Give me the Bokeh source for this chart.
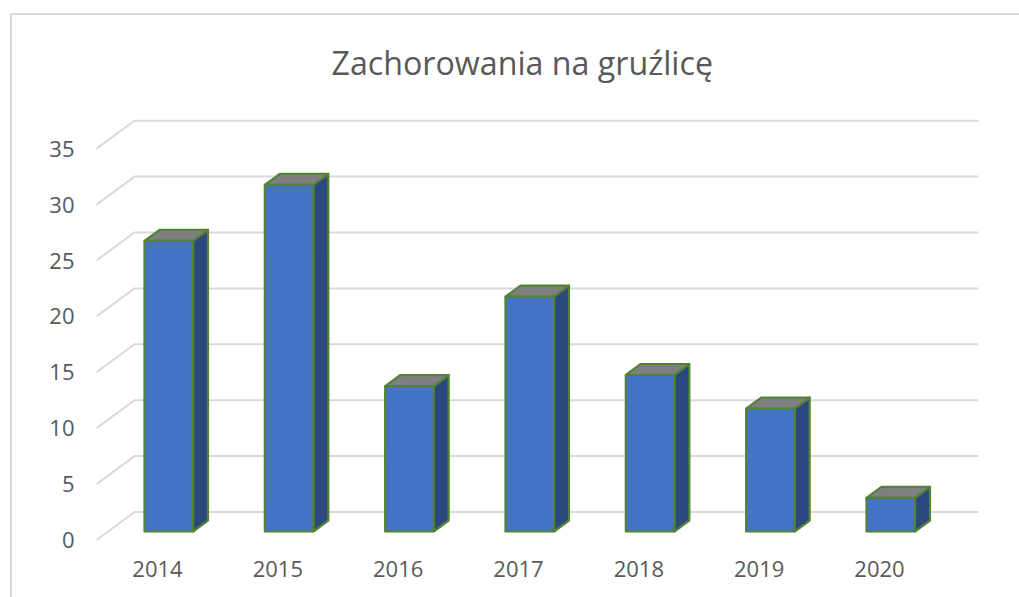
from bokeh.plotting import figure
from bokeh.embed import file_html
from bokeh.resources import INLINE
from bokeh.models import FixedTicker, Range1d

years = ["2014", "2015", "2016", "2017", "2018", "2019", "2020"]
cases = [26, 31, 13, 21, 14, 11, 3]
grid_values = [0, 5, 10, 15, 20, 25, 30, 35]

OX, OY = 10, 13  # page position of the figure
BORDER = 2
W, H = 1019 - OX, 597 - OY
PX_X0, PX_DX = 157.0, 120.33
PX_Y0, PX_DY = 539.5, 11.18
LEFT, RIGHT, TOP, BOTTOM = 96, 980, 100, 546

xr = Range1d((LEFT - PX_X0) / PX_DX, (RIGHT - PX_X0) / PX_DX)
yr = Range1d((PX_Y0 - BOTTOM) / PX_DY, (PX_Y0 - TOP) / PX_DY)

p = figure(width=W, height=H, x_range=xr, y_range=yr, output_backend="svg", toolbar_location=None,
           min_border_left=LEFT - OX - BORDER, min_border_right=OX + BORDER + W - RIGHT,
           min_border_top=TOP - OY - BORDER, min_border_bottom=OY + BORDER + H - BOTTOM,
           title="Zachorowania na gruźlicę", background_fill_color="white",
           outline_line_color=None, margin=(OY, 0, 0, OX),
           styles={"border-top": "2px solid #D9D9D9", "border-left": "2px solid #D9D9D9", "box-sizing": "border-box"})
p.title.text_font = "Open Sans"
p.title.text_font_style = "normal"
p.title.text_font_size = "32.2px"
p.title.text_color = "#595959"
p.title.align = "left"
p.title.offset = 235
p.title.standoff = 33
p.xgrid.visible = False
p.ygrid.visible = False

for ax, ticks in ((p.yaxis[0], grid_values), (p.xaxis[0], list(range(len(years))))):
    ax.ticker = FixedTicker(ticks=ticks)
    ax.axis_line_color = None
    ax.major_tick_line_color = None
    ax.minor_tick_line_color = None
    ax.major_label_text_font = "Open Sans"
    ax.major_label_text_font_size = "22px"
    ax.major_label_text_color = "#595959"
p.xaxis[0].major_label_overrides = {i: y for i, y in enumerate(years)}
p.yaxis[0].major_label_standoff = 16
p.xaxis[0].major_label_standoff = 8

# 3D wall / floor gridlines
gx0, gx1, gx2 = (96 - PX_X0) / PX_DX, (134 - PX_X0) / PX_DX, (978 - PX_X0) / PX_DX
rise = 28 / PX_DY
p.multi_line([[gx0, gx1, gx2] for _ in grid_values],
             [[v, v + rise, v + rise] for v in grid_values],
             line_color="#D9D9D9", line_width=2)

# bars
bx, bw, dx = -13 / PX_DX, 48.5 / PX_DX, 15 / PX_DX
base, dy = 8.5 / PX_DY, 11 / PX_DY
front_x, front_y, side_x, side_y, top_x, top_y = [], [], [], [], [], []
for i, v in enumerate(cases):
    l, r = i + bx, i + bx + bw
    b, t = base, v + base
    front_x.append([l, r, r, l]); front_y.append([b, b, t, t])
    side_x.append([r, r + dx, r + dx, r]); side_y.append([b, b + dy, t + dy, t])
    top_x.append([l, r, r + dx, l + dx]); top_y.append([t, t, t + dy, t + dy])
edge = dict(line_color="#548235", line_width=2.2, line_join="round")
p.patches(side_x, side_y, fill_color="#2A4A7F", **edge)
p.patches(top_x, top_y, fill_color="#7F7F7F", **edge)
p.patches(front_x, front_y, fill_color="#4472C4", **edge)

open("out.html", "w").write(file_html(p, INLINE))
